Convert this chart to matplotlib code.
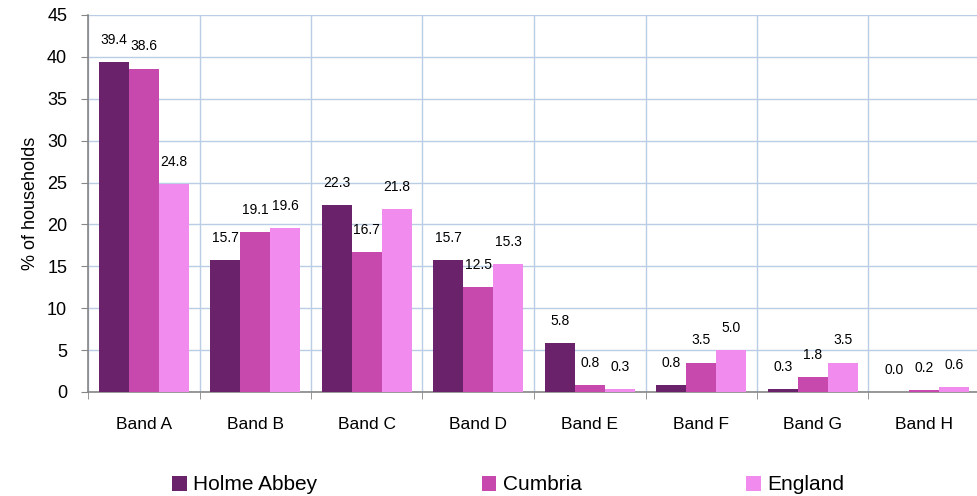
import numpy as np
import matplotlib.pyplot as plt
from matplotlib.ticker import FixedLocator

plt.rcParams['font.family'] = ['Liberation Sans', 'DejaVu Sans']

# Council tax bands, % of households
bands = ['Band A', 'Band B', 'Band C', 'Band D', 'Band E', 'Band F', 'Band G', 'Band H']
holme_abbey = [39.4, 15.7, 22.3, 15.7, 5.8, 0.8, 0.3, 0.0]
cumbria = [38.6, 19.1, 16.7, 12.5, 0.8, 3.5, 1.8, 0.2]
england = [24.8, 19.6, 21.8, 15.3, 0.3, 5.0, 3.5, 0.6]

series = [('Holme Abbey', holme_abbey, '#6a226a'),
          ('Cumbria', cumbria, '#c849ae'),
          ('England', england, '#f18cee')]

fig = plt.figure(figsize=(9.77, 4.96), dpi=100)
ax = fig.add_axes([88 / 977, 104 / 496, 892 / 977, 377 / 496])

x = np.arange(len(bands))
w = 0.268
for i, (name, vals, col) in enumerate(series):
    bars = ax.bar(x + (i - 1) * w, vals, w, color=col, label=name, zorder=3)
    ax.bar_label(bars, labels=[f'{v:.1f}' for v in vals], padding=11, fontsize=10)

ax.set_xlim(-0.5, len(bands) - 0.5)
ax.set_ylim(0, 45)
ax.set_yticks(range(0, 46, 5))
ax.set_xticks(x)
ax.set_xticklabels(bands, fontsize=12.5)
ax.xaxis.set_minor_locator(FixedLocator(np.arange(-0.5, len(bands), 1)))
ax.tick_params(axis='x', which='major', length=0, pad=18)
ax.tick_params(axis='x', which='minor', length=5, color='#868686', direction='out')
ax.tick_params(axis='y', length=5, color='#868686', pad=10, labelsize=13)

ax.grid(axis='y', color='#b9cde5', linewidth=1, zorder=0)
ax.grid(axis='x', which='minor', color='#b9cde5', linewidth=1, zorder=0)
for s in ['top', 'right']:
    ax.spines[s].set_visible(False)
for s in ['left', 'bottom']:
    ax.spines[s].set_color('#868686')
    ax.spines[s].set_linewidth(1.2)

ax.set_ylabel('% of households', fontsize=13, labelpad=6)

fig.legend(loc='center', bbox_to_anchor=(508 / 977, 1 - 485 / 496), ncol=3,
           frameon=False, fontsize=15, handlelength=0.7, handleheight=0.7,
           handletextpad=0.3, columnspacing=7.9)

fig.savefig('out.png', dpi=100)
